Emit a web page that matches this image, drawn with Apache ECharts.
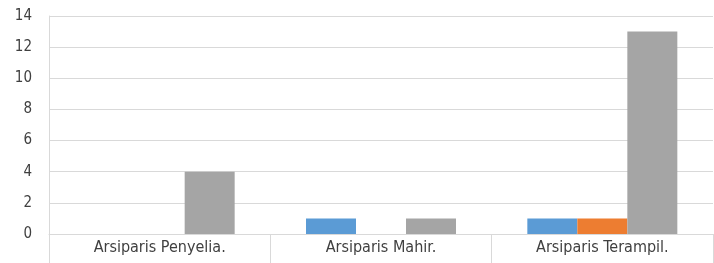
<!DOCTYPE html>
<html>
<head>
<meta charset="utf-8">
<script src="https://cdn.jsdelivr.net/npm/echarts@6/dist/echarts.min.js"></script>
<style>
  html, body { margin: 0; padding: 0; background: #fff; }
  #chart { width: 714px; height: 263px; }
</style>
</head>
<body>
<div id="chart"></div>
<script>
const categories = ['Arsiparis Penyelia.', 'Arsiparis Mahir.', 'Arsiparis Terampil.']
const seriesBlue = [0, 1, 1]
const seriesOrange = [0, 0, 1]
const seriesGray = [4, 1, 13]

const font = '"DejaVu Sans Condensed", "Liberation Sans Narrow", sans-serif'
const chart = echarts.init(document.getElementById('chart'))

const bar = (data, color) => ({
  type: 'bar',
  data: data,
  barWidth: 50,
  barGap: '0%',
  itemStyle: { color: color },
  silent: true,
})

chart.setOption({
  animation: false,
  grid: { left: 49, right: 1, top: 16, bottom: 29 },
  xAxis: {
    type: 'category',
    data: categories,
    axisLine: { show: true, lineStyle: { color: '#d9d9d9' } },
    axisTick: { show: true, length: 30, lineStyle: { color: '#d9d9d9' } },
    axisLabel: { color: '#404040', fontSize: 16, fontFamily: font, margin: 6 },
  },
  yAxis: {
    type: 'value',
    min: 0,
    max: 14,
    interval: 2,
    axisLine: { show: true, lineStyle: { color: '#d9d9d9' } },
    axisTick: { show: false },
    splitLine: { lineStyle: { color: '#d9d9d9' } },
    axisLabel: { color: '#404040', fontSize: 15, fontFamily: font, margin: 17 },
  },
  series: [
    bar(seriesBlue, '#5b9bd5'),
    bar(seriesOrange, '#ed7d31'),
    bar(seriesGray, '#a5a5a5'),
  ],
})
</script>
</body>
</html>
